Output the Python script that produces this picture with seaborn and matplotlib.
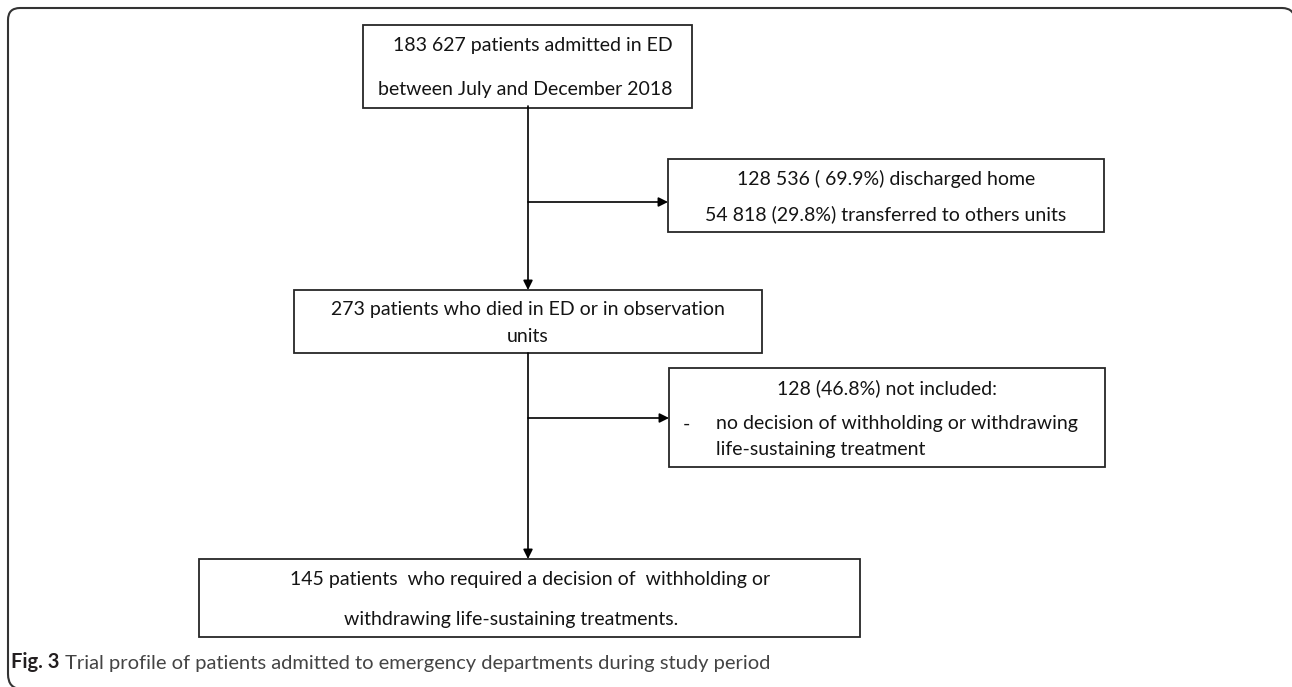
import matplotlib
matplotlib.use("Agg")
import matplotlib.pyplot as plt
from matplotlib.patches import Rectangle, PathPatch
from matplotlib.path import Path
import seaborn as sns

# flowchart texts
top_lines = ["183 627 patients admitted in ED", "between July and December 2018"]
excluded_1 = ["128 536 ( 69.9%) discharged home", "54 818 (29.8%) transferred to others units"]
died_lines = ["273 patients who died in ED or in observation", "units"]
excluded_2_head = "128 (46.8%) not included:"
excluded_2_items = ["no decision of withholding or withdrawing", "life-sustaining treatment"]
final_lines = ["145 patients  who required a decision of  withholding or",
               "withdrawing life-sustaining treatments."]
caption_bold = "Fig. 3"
caption_text = " Trial profile of patients admitted to emergency departments during study period"

sns.set_theme(style="white")
plt.rcParams["font.family"] = ["Lato", "DejaVu Sans"]

W, H = 1292, 687
fig = plt.figure(figsize=(W / 100, H / 100), dpi=100)
ax = fig.add_axes([0, 0, 1, 1])
ax.set_xlim(0, W)
ax.set_ylim(H, 0)
ax.axis("off")

edge = "#262626"
txt = "#141414"
fs = 14

# box geometry (x0, y0, x1, y1) in pixels
boxes = {
    "top": (363, 25, 692, 108),
    "ex1": (668, 159, 1104, 232),
    "died": (294, 290, 762, 353),
    "ex2": (669, 368, 1105, 467),
    "final": (199, 559, 860, 637),
}

for x0, y0, x1, y1 in boxes.values():
    ax.add_patch(Rectangle((x0, y0), x1 - x0, y1 - y0, fill=False,
                           edgecolor=edge, lw=1.3))

# outer frame: only top, left and the rounded corners are inside the image
verts = [(1295, 22), (1295, 8), (1282, 8),
         (20, 8), (8, 8), (8, 20),
         (8, 674), (8, 689), (22, 689), (60, 689)]
codes = [Path.MOVETO, Path.CURVE3, Path.CURVE3,
         Path.LINETO, Path.CURVE3, Path.CURVE3,
         Path.LINETO, Path.CURVE3, Path.CURVE3, Path.LINETO]
ax.add_patch(PathPatch(Path(verts, codes), fill=False, edgecolor="#333333", lw=1.5))

# texts
ax.text(673, 45, top_lines[0], ha="right", va="center", fontsize=fs, color=txt)
ax.text(673, 89, top_lines[1], ha="right", va="center", fontsize=fs, color=txt)

ax.text(886, 179, excluded_1[0], ha="center", va="center", fontsize=fs, color=txt)
ax.text(886, 214, excluded_1[1], ha="center", va="center", fontsize=fs, color=txt)

ax.text(528, 309, died_lines[0], ha="center", va="center", fontsize=fs, color=txt)
ax.text(528, 336, died_lines[1], ha="center", va="center", fontsize=fs, color=txt)

ax.text(887, 388, excluded_2_head, ha="center", va="center", fontsize=fs, color=txt)
ax.text(683, 424, "-", ha="left", va="center", fontsize=fs, color=txt)
ax.text(716, 424, excluded_2_items[0], ha="left", va="center", fontsize=fs, color=txt)
ax.text(716, 449, excluded_2_items[1], ha="left", va="center", fontsize=fs, color=txt)

ax.text(530, 580, final_lines[0], ha="center", va="center", fontsize=fs, color=txt)
ax.text(511, 620, final_lines[1], ha="center", va="center", fontsize=fs, color=txt)

# arrows
arrow = dict(arrowstyle="-|>", color="black", lw=1.2, mutation_scale=14,
             shrinkA=0, shrinkB=0)
ax.annotate("", xy=(528, 290), xytext=(528, 106), arrowprops=arrow)
ax.annotate("", xy=(668, 202), xytext=(528, 202), arrowprops=arrow)
ax.annotate("", xy=(528, 559), xytext=(528, 353), arrowprops=arrow)
ax.annotate("", xy=(669, 418), xytext=(528, 418), arrowprops=arrow)

# caption
cap = ax.text(11, 662, caption_bold, ha="left", va="center", fontsize=14.5,
              fontweight="bold", color="#231f20")
ax.annotate(caption_text, xy=(1, 0), xycoords=cap, ha="left", va="bottom",
            fontsize=14.5, color="#444444")

fig.savefig("out.png", dpi=100)
